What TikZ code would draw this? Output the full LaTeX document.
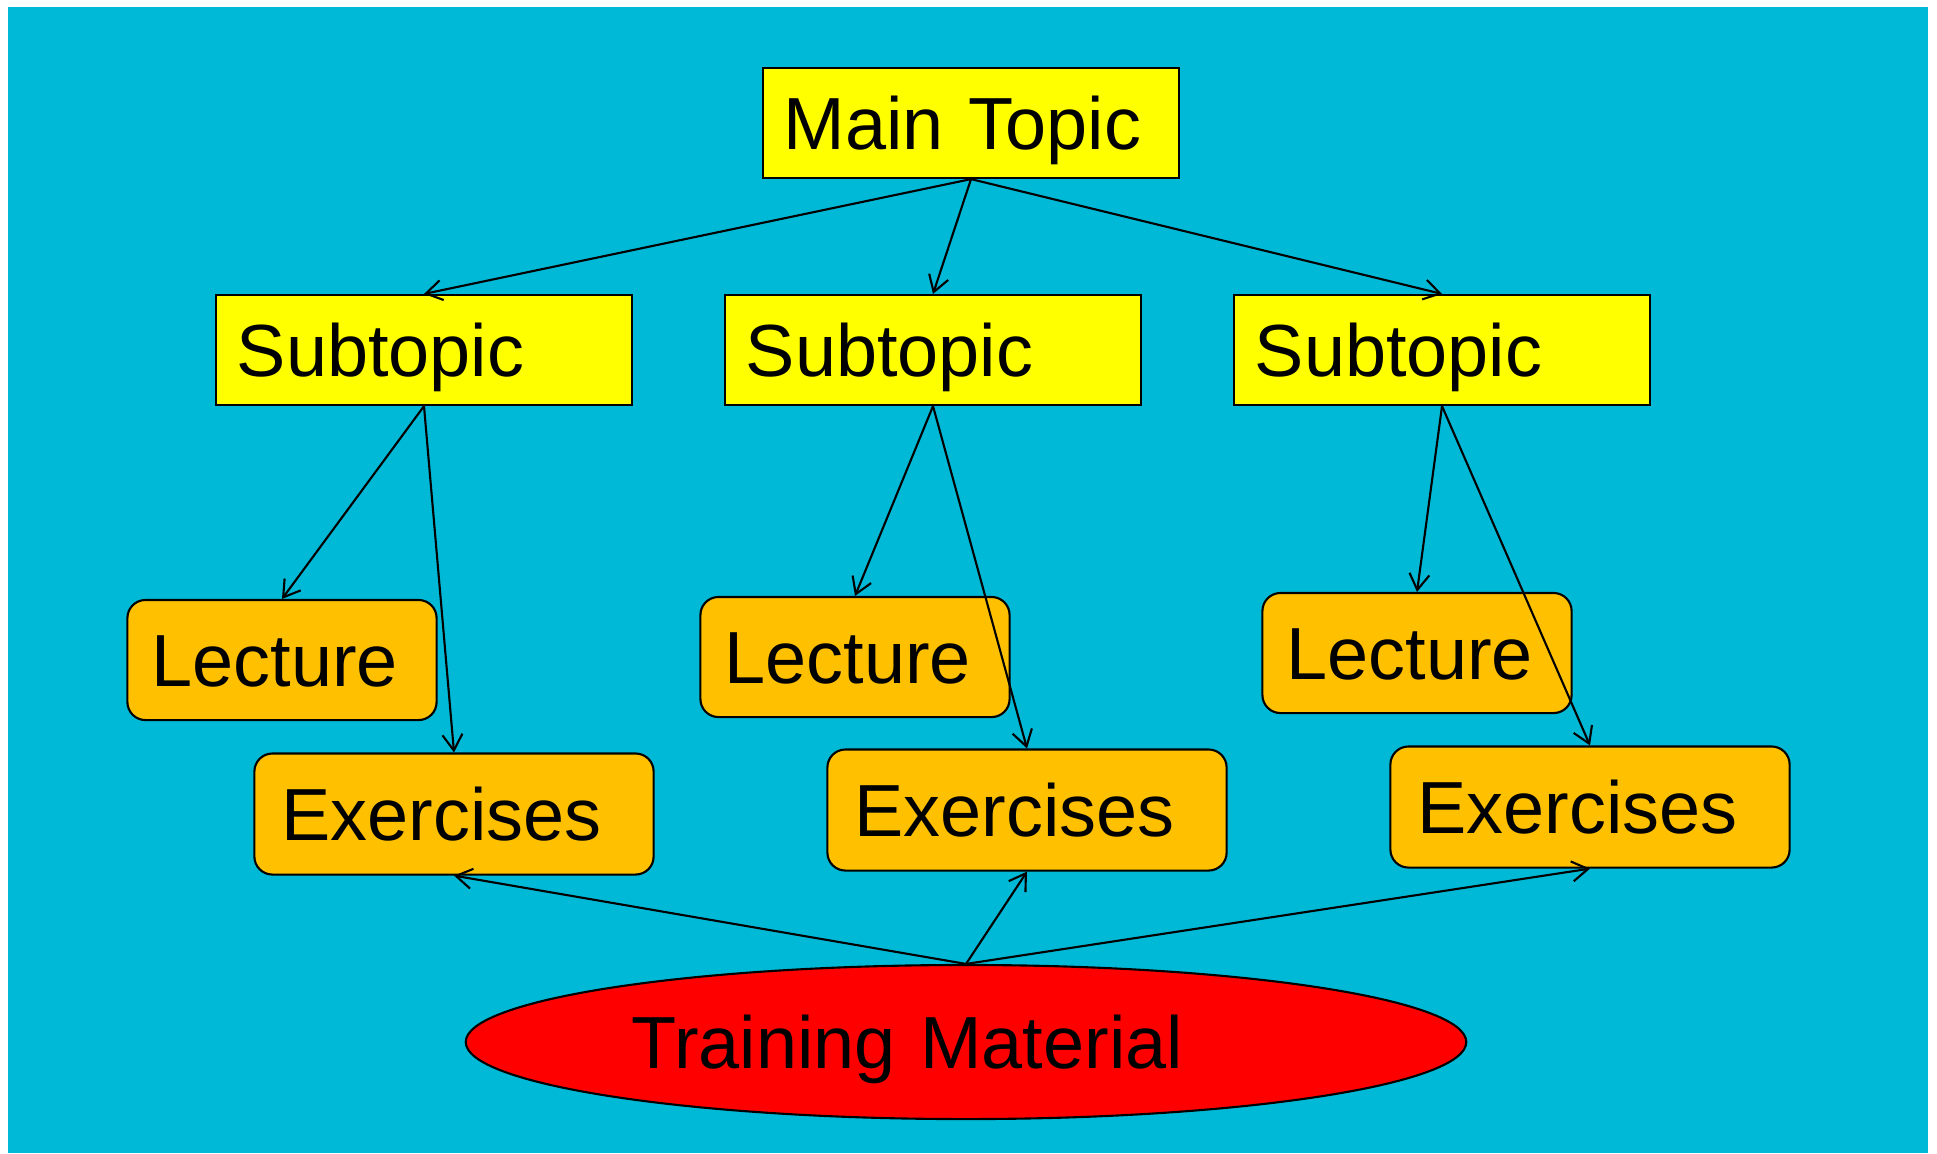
\documentclass[tikz,border=0pt]{standalone}
\usepackage{fontspec}
\setmainfont{Liberation Sans}
\usetikzlibrary{arrows.meta, positioning, shapes.geometric}

\definecolor{bgcyan}{RGB}{0,185,214}
\definecolor{topicyellow}{RGB}{255,255,0}
\definecolor{unitorange}{RGB}{255,192,0}
\definecolor{materialred}{RGB}{255,0,0}

\begin{document}
\begin{tikzpicture}[
		x=0.01cm, y=-0.01cm,
		label text/.style={font=\fontsize{21}{25}\selectfont, text height=15.2pt, text depth=0pt},
		topicbox/.style={label text, draw, line width=0.6pt, fill=topicyellow, align=left, inner xsep=0.21cm, text width=3.74cm, minimum height=1.1cm},
		unitbox/.style={label text, draw, line width=0.6pt, fill=unitorange, rounded corners=0.18cm, align=left},
		lecturebox/.style={unitbox, inner xsep=0.24cm, text width=2.61cm, minimum height=1.2cm},
		exercisebox/.style={unitbox, inner xsep=0.27cm, text width=3.45cm, minimum height=1.21cm},
		material/.style={label text, ellipse, draw, line width=0.6pt, fill=materialred, inner sep=0pt, minimum width=10cm, minimum height=1.54cm, text width=6.68cm, align=left},
		arrow/.style={-{Straight Barb[length=0.16cm, width=0.2cm]}, line width=0.6pt}
		]
		
		% background
		\useasboundingbox (0,0) rectangle (1937,1153);
		\fill[bgcyan] (8,7) rectangle (1928,1153);
		
		% Main topic
		\node[topicbox] (main) at (971,123) {Main Topic};
		
		% Subtopics
		\node[topicbox] (sub1) at (424,350) {Subtopic};
		\node[topicbox] (sub2) at (933,350) {Subtopic};
		\node[topicbox] (sub3) at (1442,350) {Subtopic};
		
		% Lectures
		\node[lecturebox] (lec1) at (282,660) {Lecture};
		\node[lecturebox] (lec2) at (855,657) {Lecture};
		\node[lecturebox] (lec3) at (1417,653) {Lecture};
		
		% Exercises
		\node[exercisebox] (ex1) at (454,814) {Exercises};
		\node[exercisebox] (ex2) at (1027,810) {Exercises};
		\node[exercisebox] (ex3) at (1590,807) {Exercises};
		
		% Training material
		\node[material] (train) at (966,1042) {Training Material};
		
		% Arrows
		\draw[arrow] (main.south) -- (sub1.north);
		\draw[arrow] (main.south) -- (sub2.north);
		\draw[arrow] (main.south) -- (sub3.north);
		\draw[arrow] (sub1.south) -- (lec1.north);
		\draw[arrow] (sub1.south) -- (ex1.north);
		\draw[arrow] (sub2.south) -- (lec2.north);
		\draw[arrow] (sub2.south) -- (ex2.north);
		\draw[arrow] (sub3.south) -- (lec3.north);
		\draw[arrow] (sub3.south) -- (ex3.north);
		\draw[arrow] (train.north) -- (ex1.south);
		\draw[arrow] (train.north) -- (ex2.south);
		\draw[arrow] (train.north) -- (ex3.south);
		
	\end{tikzpicture}
\end{document}
